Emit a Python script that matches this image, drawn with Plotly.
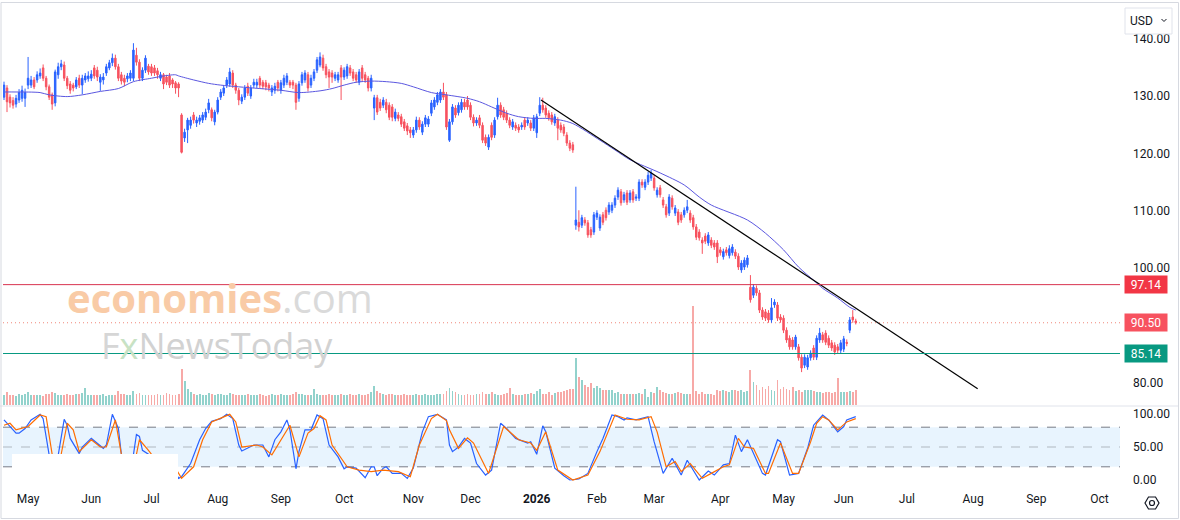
import pandas as pd
import plotly.graph_objects as go

# ---------------------------------------------------------------- data
first_session = "2025-04-21"
holidays = ["2025-05-26", "2025-06-19", "2025-07-04", "2025-09-01", "2025-11-27",
            "2025-12-25", "2026-01-01", "2026-01-19", "2026-02-16", "2026-04-03",
            "2026-05-25", "2026-06-19", "2026-07-03", "2026-09-07"]

opens = [
    129.8, 131.4, 129.8, 129.2, 128.6, 129.3, 129.6, 129.6, 131.9, 131.9,
    132.8, 132.8, 133.5, 134.9, 133.1, 131.6, 130.2, 128.8, 133.7, 135.1,
    135.4, 133.1, 132.1, 131.9, 131.6, 133.1, 131.9, 132.8, 133.0, 133.1,
    134.9, 134.5, 132.4, 132.8, 134.0, 134.9, 135.8, 136.6, 135.1, 133.7,
    133.1, 133.0, 133.1, 133.1, 137.1, 135.9, 133.1, 134.5, 135.2, 135.1,
    134.9, 134.4, 133.1, 133.7, 133.3, 133.5, 132.8, 132.3, 132.1, 126.7,
    122.7, 124.1, 124.9, 126.7, 125.3, 125.6, 125.8, 126.3, 127.6, 127.6,
    125.5, 127.2, 129.8, 130.5, 131.9, 132.1, 134.0, 131.9, 131.0, 129.1,
    129.8, 131.7, 130.0, 131.9, 131.9, 133.1, 132.4, 132.3, 131.9, 130.7,
    131.0, 132.4, 131.0, 131.9, 132.4, 132.4, 132.4, 131.9, 129.6, 132.3,
    132.8, 133.7, 131.9, 133.1, 134.5, 135.4, 136.6, 135.1, 134.2, 134.0,
    133.1, 132.8, 134.9, 133.3, 133.5, 134.9, 134.2, 133.7, 132.4, 134.9,
    133.7, 133.1, 131.4, 127.9, 129.7, 128.9, 128.4, 128.9, 128.4, 128.1,
    126.1, 126.7, 126.4, 125.5, 124.8, 124.1, 123.2, 124.1, 125.8, 123.7,
    125.1, 125.1, 127.0, 128.1, 128.9, 129.3, 130.7, 130.2, 122.3, 125.5,
    127.9, 127.1, 127.6, 128.9, 129.3, 128.4, 126.3, 125.3, 126.2, 124.9,
    122.8, 121.1, 124.9, 123.2, 126.4, 128.4, 127.6, 127.0, 125.8, 124.6,
    124.9, 124.6, 124.6, 125.8, 125.3, 125.3, 124.4, 123.6, 127.0, 128.4,
    127.9, 127.0, 126.7, 125.3, 125.8, 124.9, 124.6, 123.2, 121.8, 121.5,
    107.5, 108.0, 107.5, 108.4, 107.9, 106.7, 106.3, 108.9, 107.0, 109.3,
    110.1, 109.8, 110.1, 111.0, 112.4, 113.3, 111.9, 113.1, 111.9, 113.3,
    112.2, 112.2, 115.0, 114.1, 115.0, 115.7, 115.7, 112.8, 114.0, 111.9,
    110.7, 109.6, 112.2, 109.6, 109.8, 109.3, 109.3, 110.1, 109.6, 108.8,
    107.2, 106.3, 104.9, 105.6, 104.4, 104.9, 104.4, 104.4, 103.2, 102.0,
    103.2, 102.2, 102.7, 102.8, 102.1, 99.7, 100.2, 100.6, 96.7, 95.3,
    96.5, 95.7, 92.7, 92.4, 92.2, 91.0, 93.6, 93.6, 91.5, 91.3,
    89.2, 87.8, 87.5, 86.3, 86.3, 84.5, 83.1, 82.8, 84.4, 86.1,
    84.5, 87.5, 88.4, 88.7, 87.8, 87.0, 86.6, 86.3, 85.7, 85.9,
    87.1, 89.2, 91.5, 90.8]

highs = [
    132.5, 131.9, 130.3, 129.8, 130.2, 131.2, 131.8, 131.3, 136.8, 133.5,
    133.3, 134.3, 134.8, 135.5, 133.5, 132.0, 130.6, 134.6, 135.8, 136.3,
    136.0, 133.5, 132.6, 132.3, 133.3, 133.7, 133.7, 134.0, 134.3, 134.5,
    135.4, 135.1, 133.8, 134.0, 135.6, 136.3, 137.4, 137.2, 135.6, 134.2,
    133.7, 134.0, 134.5, 139.2, 138.4, 136.4, 135.0, 137.1, 135.6, 135.6,
    135.4, 134.9, 134.2, 134.0, 133.7, 134.0, 133.1, 132.6, 132.4, 127.0,
    124.3, 126.2, 126.4, 127.2, 126.4, 126.7, 127.2, 127.8, 129.5, 128.0,
    127.6, 129.8, 131.2, 131.9, 133.3, 134.9, 134.5, 132.3, 131.4, 130.3,
    131.9, 132.3, 131.9, 133.0, 133.0, 133.5, 132.8, 132.8, 132.3, 131.9,
    132.3, 132.8, 132.8, 133.7, 134.0, 132.8, 132.8, 132.3, 132.6, 134.2,
    134.5, 134.2, 133.7, 134.7, 136.8, 137.6, 137.2, 135.6, 134.7, 134.5,
    134.2, 134.2, 135.4, 135.0, 135.6, 135.4, 134.7, 134.2, 134.7, 135.4,
    134.2, 133.5, 133.7, 130.2, 130.2, 129.5, 129.8, 129.5, 128.9, 128.6,
    127.8, 127.2, 126.9, 126.0, 125.3, 124.6, 124.6, 126.4, 126.3, 125.6,
    126.7, 126.5, 129.3, 129.8, 130.7, 131.2, 132.3, 130.7, 126.0, 128.6,
    128.4, 128.9, 129.5, 129.5, 130.0, 128.9, 126.8, 126.3, 126.7, 125.4,
    123.3, 123.3, 125.4, 126.3, 129.7, 128.9, 128.1, 127.5, 126.3, 126.0,
    125.4, 125.1, 125.4, 126.3, 126.3, 125.8, 126.7, 126.9, 129.8, 129.7,
    128.4, 127.5, 127.2, 126.9, 126.3, 125.4, 125.1, 123.7, 122.3, 122.0,
    114.2, 110.1, 109.3, 108.9, 108.4, 107.2, 109.8, 110.1, 109.4, 109.8,
    110.6, 111.5, 111.5, 112.7, 114.1, 113.8, 113.3, 113.6, 113.6, 113.8,
    112.9, 115.5, 115.5, 115.5, 116.8, 117.1, 116.2, 114.1, 114.5, 112.4,
    111.2, 112.9, 112.7, 111.0, 110.3, 109.8, 110.6, 111.9, 110.1, 109.3,
    107.7, 106.8, 105.4, 106.1, 106.3, 105.4, 104.9, 104.9, 103.7, 103.4,
    103.7, 104.0, 104.2, 103.3, 102.6, 101.4, 101.9, 102.3, 98.8, 97.2,
    97.0, 96.2, 93.2, 92.9, 92.7, 94.8, 94.6, 94.1, 92.0, 91.8,
    89.7, 88.3, 88.0, 88.4, 86.8, 85.0, 85.0, 84.9, 85.7, 86.6,
    88.3, 89.6, 88.9, 89.2, 88.3, 87.5, 87.1, 86.8, 87.5, 88.2,
    87.6, 91.5, 92.7, 91.2]

lows = [
    129.3, 127.2, 128.0, 127.8, 128.0, 128.8, 129.0, 128.1, 131.2, 131.4,
    131.2, 132.3, 133.0, 132.6, 131.0, 129.3, 127.6, 128.2, 133.0, 134.5,
    132.6, 131.2, 130.4, 130.8, 131.2, 131.4, 130.3, 132.3, 132.5, 132.6,
    133.0, 132.6, 130.9, 132.0, 133.5, 134.5, 135.2, 134.6, 132.6, 132.0,
    131.7, 132.4, 132.6, 132.6, 135.3, 132.6, 132.6, 134.0, 133.7, 133.5,
    133.5, 133.0, 132.6, 131.2, 131.9, 131.4, 131.4, 130.4, 129.8, 120.0,
    122.0, 121.8, 124.3, 125.2, 124.6, 125.0, 125.3, 125.8, 127.0, 125.6,
    124.9, 126.8, 129.3, 130.0, 131.4, 131.6, 131.4, 130.4, 128.4, 128.6,
    129.3, 130.0, 129.5, 131.4, 131.4, 131.4, 131.2, 131.0, 130.8, 130.0,
    130.4, 130.8, 130.4, 131.4, 131.9, 131.4, 131.2, 127.6, 129.0, 131.8,
    132.3, 130.8, 131.4, 132.6, 134.0, 135.0, 134.4, 133.1, 131.4, 132.3,
    132.6, 132.3, 129.3, 132.8, 133.0, 133.5, 132.6, 132.3, 131.9, 132.6,
    132.3, 130.8, 130.8, 125.8, 126.7, 127.4, 127.9, 127.0, 125.8, 125.6,
    125.6, 125.6, 124.6, 123.9, 123.2, 122.7, 122.7, 123.6, 124.1, 123.2,
    124.6, 124.6, 126.5, 127.6, 128.4, 128.8, 129.3, 124.1, 122.0, 125.0,
    126.2, 126.6, 127.1, 127.6, 127.6, 125.8, 124.7, 124.8, 124.4, 121.8,
    121.3, 120.6, 122.3, 122.7, 125.9, 126.2, 125.8, 125.3, 124.4, 124.1,
    123.9, 123.6, 124.1, 124.1, 124.8, 123.9, 123.9, 122.7, 126.5, 127.1,
    126.2, 125.7, 125.0, 124.8, 122.3, 123.6, 123.0, 121.3, 120.4, 120.1,
    106.7, 106.4, 107.0, 107.4, 105.3, 105.3, 105.8, 108.4, 106.5, 107.5,
    108.3, 109.3, 109.6, 110.5, 111.9, 110.9, 111.4, 111.0, 111.4, 111.4,
    111.7, 111.7, 114.0, 113.6, 114.5, 115.2, 113.5, 112.3, 112.3, 110.5,
    108.8, 109.1, 110.2, 109.1, 107.5, 107.9, 108.8, 109.6, 107.9, 106.7,
    104.9, 104.8, 102.5, 104.2, 103.9, 103.5, 103.2, 100.9, 102.2, 101.5,
    102.2, 101.7, 102.2, 101.6, 99.7, 99.2, 99.7, 100.1, 94.0, 94.8,
    95.2, 92.2, 91.0, 90.8, 90.5, 90.5, 93.1, 90.8, 90.5, 88.7,
    87.0, 85.8, 85.8, 85.8, 83.9, 81.9, 82.6, 82.3, 83.9, 84.0,
    84.0, 87.0, 87.0, 86.6, 86.1, 85.6, 84.9, 85.2, 85.2, 85.4,
    86.4, 88.7, 90.5, 90.2]

closes = [
    131.9, 129.0, 128.8, 128.4, 129.6, 130.6, 131.0, 130.6, 133.1, 132.8,
    131.6, 133.7, 134.0, 133.1, 131.6, 129.8, 128.6, 134.2, 135.1, 135.6,
    133.1, 131.8, 131.0, 131.4, 132.8, 131.9, 133.1, 133.5, 133.5, 133.8,
    133.5, 133.3, 133.3, 133.3, 135.1, 135.8, 136.6, 135.1, 133.1, 132.6,
    132.4, 133.5, 134.0, 138.0, 135.9, 133.1, 134.5, 136.6, 134.2, 134.0,
    134.0, 133.7, 133.7, 132.1, 132.4, 131.9, 132.1, 131.4, 131.4, 120.2,
    123.7, 125.8, 125.8, 125.8, 125.8, 126.2, 126.7, 127.2, 128.8, 126.2,
    127.2, 129.3, 130.7, 131.4, 132.8, 134.2, 131.9, 131.0, 129.3, 129.8,
    131.4, 130.5, 131.4, 132.4, 132.4, 131.9, 131.7, 131.6, 131.4, 131.4,
    131.7, 131.4, 132.3, 133.1, 133.5, 131.9, 131.9, 128.9, 132.1, 133.7,
    134.0, 131.4, 133.1, 134.2, 136.3, 136.8, 134.9, 133.7, 133.3, 133.3,
    133.7, 133.7, 133.3, 134.5, 135.1, 134.0, 133.1, 132.8, 134.2, 133.1,
    132.8, 131.4, 133.1, 129.7, 127.2, 127.9, 129.3, 127.6, 126.3, 126.3,
    127.2, 126.1, 125.1, 124.4, 123.9, 123.6, 124.1, 125.8, 124.6, 125.1,
    126.2, 126.0, 128.8, 129.3, 130.2, 130.7, 129.8, 124.6, 125.5, 128.1,
    126.7, 128.4, 128.9, 128.1, 128.1, 126.3, 125.3, 125.8, 124.9, 122.3,
    121.8, 122.8, 122.8, 125.8, 128.4, 126.7, 126.3, 125.8, 124.9, 125.5,
    124.4, 124.1, 124.9, 124.6, 125.8, 124.4, 126.2, 126.4, 128.4, 127.6,
    126.7, 126.2, 125.5, 126.4, 124.4, 124.1, 123.5, 121.8, 120.9, 120.6,
    108.4, 107.2, 108.8, 107.9, 105.8, 105.8, 109.3, 109.6, 108.9, 108.0,
    108.8, 111.0, 111.0, 112.2, 113.6, 111.4, 112.8, 111.5, 113.1, 111.9,
    112.4, 115.0, 114.5, 115.0, 116.2, 116.6, 114.0, 113.6, 112.8, 111.0,
    109.3, 112.4, 110.7, 110.5, 108.0, 108.4, 110.1, 110.7, 108.4, 107.2,
    105.4, 105.3, 104.4, 104.7, 105.8, 104.0, 103.7, 102.0, 102.7, 102.9,
    102.7, 103.4, 103.7, 102.1, 100.2, 100.9, 101.4, 101.8, 94.5, 96.7,
    95.7, 92.7, 91.5, 91.3, 91.0, 93.1, 94.1, 91.3, 91.0, 89.2,
    87.5, 86.3, 86.3, 88.0, 84.4, 82.6, 84.5, 84.4, 85.2, 84.5,
    87.8, 88.7, 87.5, 87.1, 86.6, 86.1, 85.4, 85.7, 87.0, 87.7,
    86.9, 91.0, 91.0, 90.5]

volumes_m = [
    3.3, 4.5, 3.5, 3.2, 3.0, 3.8, 3.4, 3.6, 4.2, 3.4,
    3.5, 3.2, 3.4, 3.1, 3.6, 3.8, 4.2, 4.0, 3.5, 3.3,
    3.2, 3.6, 3.4, 3.5, 3.8, 3.6, 3.9, 5.8, 3.4, 3.2,
    3.5, 3.4, 3.3, 3.6, 3.1, 3.4, 3.5, 3.3, 4.6, 3.8,
    3.6, 3.2, 3.5, 4.8, 3.6, 3.9, 3.3, 3.2, 3.5, 3.4,
    3.3, 3.6, 3.4, 3.5, 3.9, 3.6, 3.3, 3.5, 3.8, 12.0,
    8.0, 5.2, 4.4, 3.8, 3.5, 3.6, 3.4, 3.3, 3.9, 3.6,
    3.5, 3.8, 3.6, 3.4, 3.5, 4.0, 3.7, 3.4, 3.5, 3.3,
    3.4, 3.6, 3.3, 3.5, 3.4, 3.6, 3.3, 3.1, 3.4, 3.6,
    3.5, 3.4, 3.6, 3.3, 3.5, 3.4, 3.6, 4.2, 3.8, 3.6,
    3.4, 3.5, 3.3, 5.5, 3.6, 3.4, 3.5, 3.3, 3.6, 3.4,
    3.3, 3.5, 3.7, 3.4, 3.3, 3.6, 3.4, 3.5, 3.8, 3.4,
    3.3, 3.6, 4.2, 6.5, 4.8, 3.9, 3.6, 3.5, 3.8, 3.6,
    3.4, 3.5, 3.3, 3.6, 3.4, 3.5, 3.3, 3.6, 3.5, 3.4,
    3.6, 3.4, 3.5, 3.3, 3.6, 3.8, 3.7, 4.6, 5.8, 4.6,
    4.2, 3.6, 3.5, 3.3, 3.6, 3.4, 3.5, 3.8, 3.6, 4.2,
    3.8, 3.6, 4.2, 3.6, 3.4, 3.5, 3.8, 4.0, 5.8, 3.6,
    3.4, 3.5, 3.3, 3.6, 3.8, 4.0, 3.6, 4.6, 5.5, 3.6,
    3.8, 4.2, 3.5, 4.0, 4.2, 4.5, 4.8, 5.0, 5.2, 5.5,
    15.7, 9.4, 8.3, 6.7, 6.0, 7.3, 5.7, 6.3, 5.7, 5.0,
    5.0, 5.0, 5.0, 4.0, 4.3, 3.8, 3.8, 3.7, 3.8, 3.6,
    3.8, 4.0, 3.7, 5.3, 2.7, 4.3, 4.0, 6.0, 5.0, 4.3,
    4.0, 3.8, 3.8, 4.0, 4.3, 4.0, 3.6, 3.8, 3.7, 33.0,
    4.8, 3.8, 4.2, 3.6, 3.8, 3.6, 3.5, 5.0, 4.8, 5.0,
    4.7, 4.3, 5.0, 5.0, 4.8, 5.0, 4.5, 4.8, 11.7, 7.7,
    6.7, 5.0, 6.0, 5.3, 6.2, 5.0, 4.7, 8.3, 5.5, 6.0,
    5.3, 5.0, 6.0, 4.7, 5.0, 4.3, 5.0, 5.0, 5.0, 4.7,
    4.5, 4.2, 4.0, 4.2, 4.4, 4.0, 4.3, 9.0, 4.3, 4.5,
    4.2, 4.7, 4.5, 5.0]

# 50-day moving average, read at selected sessions (session number, value)
ma_session = [0, 4, 12, 15, 21, 26, 32, 38, 43, 49, 52, 57, 58, 63, 68, 72, 78, 85, 92,
              98, 105, 109, 113, 117, 122, 127, 132, 136, 142, 147, 154, 158, 162, 167,
              171, 176, 180, 185, 189, 198, 203, 208, 218, 226, 231, 235, 247, 253, 259,
              264, 269, 272, 277, 281, 283]
ma_value = [130.7, 130.7, 130.6, 130.2, 129.9, 130.2, 130.8, 131.3, 132.5, 133.1, 133.4,
            133.7, 133.5, 132.8, 132.2, 131.9, 131.6, 131.3, 131.0, 130.6, 130.9, 131.3,
            131.9, 132.4, 132.6, 132.5, 132.2, 131.6, 130.6, 130.2, 129.6, 129.0, 128.1,
            127.0, 126.4, 126.1, 126.1, 125.8, 125.2, 122.3, 120.6, 118.9, 116.6, 114.5,
            112.4, 111.0, 108.4, 106.1, 103.2, 100.2, 97.9, 96.5, 94.8, 93.2, 92.7]

# Stochastic %K / %D turning points (session number, value)
stoch_k_session = [0, 1, 4, 5, 7, 9, 12, 13, 15, 17, 18, 20, 21, 22, 25, 26, 29, 31, 33, 34,
                   36, 38, 39, 41, 43, 44, 45, 46, 48, 52, 56, 58, 59, 62, 65, 67, 69, 72,
                   74, 76, 78, 79, 83, 86, 88, 90, 92, 94, 95, 97, 98, 100, 102, 104, 106,
                   108, 111, 113, 114, 117, 120, 122, 123, 124, 126, 127, 129, 132, 134,
                   136, 139, 141, 143, 144, 147, 148, 149, 151, 153, 155, 157, 160, 162,
                   165, 167, 170, 174, 175, 177, 179, 180, 183, 186, 188, 191, 194, 197,
                   199, 202, 204, 206, 207, 210, 212, 214, 216, 219, 222, 225, 227, 229,
                   231, 234, 236, 239, 241, 243, 245, 247, 249, 252, 253, 257, 258, 261,
                   264, 267, 269, 272, 274, 277, 279, 280, 283]
stoch_k_value = [91, 86, 71, 71, 78, 91, 99.5, 93, 38, 10, 38, 92, 83, 63, 40, 50, 63, 56, 48,
                 53, 99.5, 78, 39, 12, 38, 69, 66, 45, 39, 15, 20, 2.5, 5, 25, 61, 78, 89,
                 93, 99.5, 93, 53, 44, 53, 53, 35, 61, 73, 91, 76, 17, 43, 76, 76, 98.5, 93,
                 53, 35, 17, 20, 18, 3.5, 20, 20, 6.5, 18, 20, 10, 10, 2.5, 18, 73, 96,
                 98.5, 99.5, 91, 53, 43, 50, 63, 56, 25, 7.5, 15, 86, 78, 63, 56, 58, 39,
                 82, 73, 18, 6.5, 0, 1.5, 10, 43, 63, 98.5, 96, 91, 94, 91, 93, 96, 58, 10,
                 33, 7.5, 30, 15, 0, 13.6, 7.5, 23, 25, 68, 43, 61, 40, 10, 7.5, 61, 58,
                 7.5, 10, 48, 83, 98.5, 91, 73, 81, 91, 96]
stoch_d_session = [0, 2, 4, 8, 12, 14, 16, 18, 19, 21, 23, 25, 29, 32, 34, 37, 39, 42, 44,
                   45, 48, 49, 53, 57, 59, 63, 66, 69, 75, 77, 79, 84, 86, 89, 93, 95, 98,
                   101, 103, 105, 107, 109, 114, 118, 122, 126, 131, 135, 138, 142, 144,
                   147, 148, 151, 154, 156, 161, 166, 171, 175, 177, 180, 184, 189, 194,
                   198, 203, 207, 211, 215, 217, 220, 223, 225, 228, 232, 235, 239, 241,
                   244, 246, 249, 253, 254, 258, 262, 264, 268, 270, 272, 274, 277, 280, 283]
stoch_d_value = [83, 86, 76, 81, 98.5, 96, 39, 12, 39, 86, 76, 43, 61, 50, 50, 91, 39, 12,
                 39, 61, 45, 39, 15, 18, 2.5, 20, 61, 88, 99.5, 88, 50, 53, 50, 38, 68, 83,
                 35, 71, 78, 97.5, 91, 53, 20, 15, 12.6, 15, 12.6, 5, 53, 93, 99.5, 90, 76,
                 48, 64, 56, 10, 81, 61, 56, 45, 73, 15, 0, 7.5, 43, 98.5, 92, 91, 96, 73,
                 20, 28, 12.6, 25, 2.5, 10, 20, 23, 63, 50, 48, 10, 10, 56, 10, 10, 58, 86,
                 96, 91, 76, 88, 93]

trend_times = ["2026-01-05 10:00", "2026-08-04 12:00"]
trend_prices = [129.3, 79.0]

resistance_level = 97.14
last_price = 90.50
support_level = 85.14

price_ticks = [80, 100, 110, 120, 130, 140]
stoch_ticks = [0, 50, 100]
month_names = ["Jan", "Feb", "Mar", "Apr", "May", "Jun",
               "Jul", "Aug", "Sep", "Oct", "Nov", "Dec"]

# ---------------------------------------------------------------- styling
FONT = "Roboto"
TXT = "#131722"
UP, DOWN = "#2962FF", "#F7525F"
W, H = 1180, 520
L, R, T, B = 3, 60, 4, 30
PW, PH = W - L - R, H - T - B


def PX(px):
    return (px - L) / PW


def PY(py):
    return (H - B - py) / PH


calendar = pd.bdate_range("2025-04-01", "2026-12-31", freq="C", holidays=holidays)
sessions = calendar[calendar >= pd.Timestamp(first_session)][:len(closes)]

cal = pd.Series(calendar)
firsts = cal.groupby([cal.dt.year, cal.dt.month]).min()
tickvals, ticktext = [], []
for (yy, mm), d in firsts.items():
    month_start = pd.Timestamp(yy, mm, 1)
    if month_start < pd.Timestamp("2025-05-01") or month_start > pd.Timestamp("2026-10-01"):
        continue
    tickvals.append(d)
    ticktext.append("<b>%d</b>" % yy if mm == 1 else month_names[mm - 1])

vol_colors = ["rgba(38,166,154,0.5)" if c >= o else "rgba(239,83,80,0.5)"
              for o, c in zip(opens, closes)]

fig = go.Figure()
fig.add_trace(go.Bar(x=sessions, y=volumes_m, marker_color=vol_colors, marker_line_width=0,
                     width=0.62 * 86400000, xaxis="x", yaxis="y2", showlegend=False))
fig.add_trace(go.Candlestick(
    x=sessions, open=opens, high=highs, low=lows, close=closes,
    increasing=dict(line=dict(color=UP, width=1), fillcolor=UP),
    decreasing=dict(line=dict(color=DOWN, width=1), fillcolor=DOWN),
    whiskerwidth=0, xaxis="x", yaxis="y", showlegend=False))
fig.add_trace(go.Scatter(x=sessions[ma_session], y=ma_value, mode="lines",
                         line=dict(color="#5B57E0", width=1, shape="spline", smoothing=0.8),
                         xaxis="x", yaxis="y", showlegend=False))
fig.add_trace(go.Scatter(x=pd.to_datetime(trend_times), y=trend_prices, mode="lines",
                         line=dict(color="#000000", width=1.2),
                         xaxis="x", yaxis="y", showlegend=False))
fig.add_trace(go.Scatter(x=sessions[stoch_k_session], y=stoch_k_value, mode="lines",
                         line=dict(color="#2962FF", width=1.2), xaxis="x", yaxis="y3",
                         showlegend=False))
fig.add_trace(go.Scatter(x=sessions[stoch_d_session], y=stoch_d_value, mode="lines",
                         line=dict(color="#FF6D00", width=1.2), xaxis="x", yaxis="y3",
                         showlegend=False))

shapes = [
    # stochastic band and guides
    dict(type="rect", xref="x domain", x0=0, x1=1, yref="y3", y0=20, y1=80,
         fillcolor="rgba(33,150,243,0.10)", line_width=0, layer="below"),
    dict(type="line", xref="x domain", x0=0, x1=1, yref="y3", y0=80, y1=80,
         line=dict(color="#787B86", width=1, dash="dash"), layer="below"),
    dict(type="line", xref="x domain", x0=0, x1=1, yref="y3", y0=50, y1=50,
         line=dict(color="rgba(120,123,134,0.5)", width=1, dash="dash"), layer="below"),
    dict(type="line", xref="x domain", x0=0, x1=1, yref="y3", y0=20, y1=20,
         line=dict(color="#787B86", width=1, dash="dash"), layer="below"),
    # price levels
    dict(type="line", xref="x domain", x0=0, x1=1, yref="y", y0=resistance_level,
         y1=resistance_level, line=dict(color="#D9344F", width=1), layer="above"),
    dict(type="line", xref="x domain", x0=0, x1=1, yref="y", y0=support_level,
         y1=support_level, line=dict(color="#089981", width=1), layer="above"),
    dict(type="line", xref="x domain", x0=0, x1=1, yref="y", y0=last_price,
         y1=last_price, line=dict(color="#F0877A", width=1, dash="1px,3px"), layer="below"),
    # pane separator
    dict(type="line", xref="paper", x0=PX(0), x1=PX(1178), yref="paper", y0=PY(406),
         y1=PY(406), line=dict(color="#E0E3EB", width=1)),
    # white patch over stochastic legend area
    dict(type="rect", xref="paper", x0=PX(12), x1=PX(178), yref="paper", y0=PY(480),
         y1=PY(454), fillcolor="white", line_width=0, layer="above"),
    # outer frame
    dict(type="rect", xref="paper", x0=PX(1), x1=PX(1178.5), yref="paper", y0=PY(518.5),
         y1=PY(2.5), line=dict(color="#D6D9E0", width=1), fillcolor="rgba(0,0,0,0)"),
    # currency button
    dict(type="rect", xref="paper", x0=PX(1125), x1=PX(1172), yref="paper", y0=PY(34),
         y1=PY(8), fillcolor="white", line=dict(color="#E0E3EB", width=1), layer="above"),
    dict(type="path", xref="paper", yref="paper",
         path="M %f %f L %f %f L %f %f" % (PX(1161.5), PY(19), PX(1164), PY(21.5), PX(1166.5), PY(19)),
         line=dict(color=TXT, width=1), layer="above"),
]
# settings hexagon icon
hx, hy, hr = 1152, 503, 7
hex_pts = [(hx - hr, hy), (hx - hr / 2, hy - 6), (hx + hr / 2, hy - 6), (hx + hr, hy),
           (hx + hr / 2, hy + 6), (hx - hr / 2, hy + 6)]
path = "M " + " L ".join("%f %f" % (PX(a), PY(b)) for a, b in hex_pts) + " Z"
shapes.append(dict(type="path", xref="paper", yref="paper", path=path,
                   line=dict(color=TXT, width=1.2), layer="above"))
shapes.append(dict(type="circle", xref="paper", yref="paper", x0=PX(hx - 2.5), x1=PX(hx + 2.5),
                   y0=PY(hy + 2.5), y1=PY(hy - 2.5), line=dict(color=TXT, width=1.2),
                   layer="above"))


def price_tag(v, bg):
    return dict(xref="paper", x=1, xanchor="left", xshift=4, yref="y", y=v, yanchor="middle",
                text="%.2f" % v, showarrow=False, bgcolor=bg, width=40, height=15,
                borderpad=1, font=dict(color="white", size=12, family=FONT))


annotations = [
    price_tag(resistance_level, "#F23645"),
    price_tag(last_price, "#F7525F"),
    price_tag(support_level, "#089981"),
    dict(xref="paper", yref="paper", x=PX(1141), y=PY(20.5), text="USD", showarrow=False,
         font=dict(size=12, color=TXT, family=FONT), xanchor="center", yanchor="middle"),
    dict(xref="paper", yref="paper", x=PX(220), y=PY(297),
         text='<b><span style="color:#F9CBA6">economies</span></b>'
              '<span style="color:#DADADA">.com</span>',
         showarrow=False, font=dict(size=40, family="Open Sans"),
         xanchor="center", yanchor="middle"),
    dict(xref="paper", yref="paper", x=PX(217), y=PY(345),
         text='<span style="color:#D6D6D6">F</span><span style="color:#C8E2C4">x</span>'
              '<span style="color:#D2D2D2">NewsToday</span>',
         showarrow=False, font=dict(size=36, family="Open Sans"),
         xanchor="center", yanchor="middle"),
]

fig.update_layout(
    width=W, height=H, margin=dict(l=L, r=R, t=T, b=B),
    paper_bgcolor="white", plot_bgcolor="white", showlegend=False,
    font=dict(family=FONT, size=12, color=TXT),
    bargap=0,
    xaxis=dict(type="date", anchor="y3",
               range=[pd.Timestamp("2025-04-18 16:00"), pd.Timestamp("2026-10-09 19:00")],
               rangebreaks=[dict(bounds=["sat", "mon"]), dict(values=holidays)],
               tickvals=tickvals, ticktext=ticktext, showgrid=False, zeroline=False,
               showline=False, ticks="", tickfont=dict(size=12, color=TXT, family=FONT),
               rangeslider=dict(visible=False)),
    yaxis=dict(domain=[PY(405), 1], range=[76.17, 146.03], side="right", anchor="x",
               tickvals=price_ticks, ticktext=["%.2f" % t for t in price_ticks],
               showgrid=False, zeroline=False, ticks="", ticklabelstandoff=12,
               tickfont=dict(size=12, color=TXT, family=FONT)),
    yaxis2=dict(overlaying="y", range=[0, 133.7], visible=False, anchor="x"),
    yaxis3=dict(domain=[0, PY(407)], range=[-15.15, 110.6], side="right", anchor="x",
                tickvals=stoch_ticks, ticktext=["%.2f" % t for t in stoch_ticks],
                showgrid=False, zeroline=False, ticks="", ticklabelstandoff=12,
                tickfont=dict(size=12, color=TXT, family=FONT)),
    shapes=shapes, annotations=annotations,
)

fig.write_html("out.html")
